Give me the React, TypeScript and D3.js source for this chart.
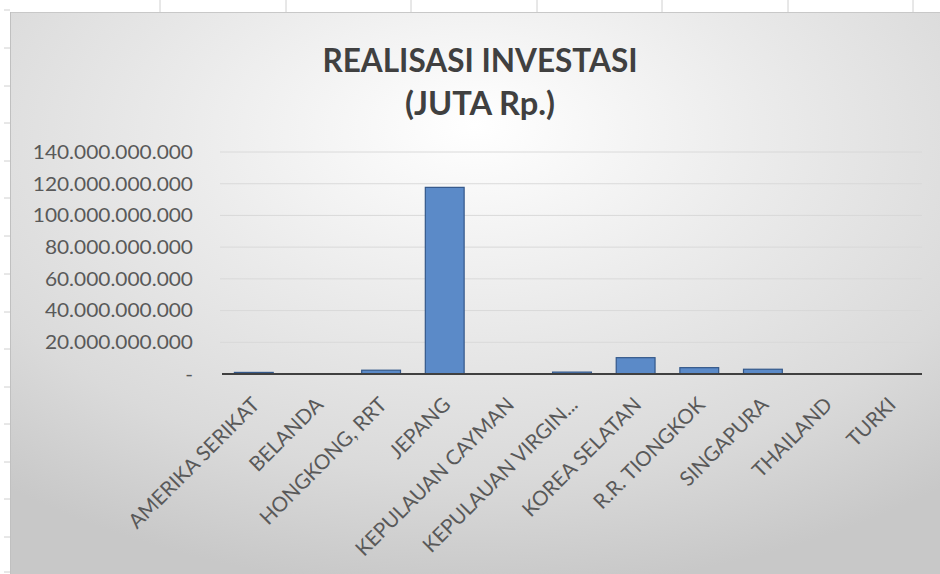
import React from "react";
import * as d3 from "d3";

const categories = [
  "AMERIKA SERIKAT",
  "BELANDA",
  "HONGKONG, RRT",
  "JEPANG",
  "KEPULAUAN CAYMAN",
  "KEPULAUAN VIRGIN...",
  "KOREA SELATAN",
  "R.R. TIONGKOK",
  "SINGAPURA",
  "THAILAND",
  "TURKI",
];
const values = [1.0e9, 0, 2.4e9, 117.7e9, 0, 1.2e9, 10.3e9, 4.0e9, 3.0e9, 0, 0];
const yTicks = [0, 20e9, 40e9, 60e9, 80e9, 100e9, 120e9, 140e9];
const titleLines = ["REALISASI INVESTASI", "(JUTA Rp.)"];

const W = 940;
const H = 574;
const colLines = [160, 286, 411, 537, 662, 788, 913];
const rowLines = [10, 48, 86, 123, 161, 198, 236, 274, 312, 349, 387, 424, 462, 499, 537, 572];

const locale = d3.formatLocale({ decimal: ",", thousands: ".", grouping: [3], currency: ["", ""] });
const fmt = locale.format(",");

export default function App() {
  const x = d3.scaleBand<string>().domain(categories).range([222, 922]).paddingInner(0.39).paddingOuter(0.195);
  const y = d3.scaleLinear().domain([0, 140e9]).range([374, 152]);
  const font = "Lato, 'Open Sans', sans-serif";
  return (
    <svg width={W} height={H} style={{ position: "absolute", left: 0, top: 0 }} fontFamily={font}>
      <defs>
        <radialGradient id="bg" cx="50%" cy="25%" r="78%" fx="50%" fy="20%">
          <stop offset="0%" stopColor="#ffffff" />
          <stop offset="40%" stopColor="#ebebeb" />
          <stop offset="75%" stopColor="#dadada" />
          <stop offset="100%" stopColor="#c8c8c8" />
        </radialGradient>
      </defs>
      <rect x={0} y={0} width={W} height={H} fill="#ffffff" />
      {colLines.map((cx) => (
        <line key={"c" + cx} x1={cx} x2={cx} y1={0} y2={12} stroke="#d0d0d0" strokeWidth={1} />
      ))}
      {rowLines.map((ry) => (
        <line key={"r" + ry} x1={4} x2={10} y1={ry} y2={ry} stroke="#d0d0d0" strokeWidth={1} />
      ))}
      <rect x={10} y={12} width={W - 10} height={H - 12} fill="url(#bg)" />
      <line x1={10} x2={W} y1={12.5} y2={12.5} stroke="#c8c8c8" strokeWidth={1} />
      <line x1={10.5} x2={10.5} y1={12} y2={H} stroke="#c0c0c0" strokeWidth={1} />

      {titleLines.map((t, i) => (
        <text
          key={t}
          x={480}
          y={72 + i * 43}
          textAnchor="middle"
          fontSize={33}
          fontWeight={700}
          fill="#404040"
          textLength={i === 0 ? 315 : 150}
          lengthAdjust="spacingAndGlyphs"
        >
          {t}
        </text>
      ))}

      {yTicks.map((t) => (
        <g key={t}>
          {t > 0 && (
            <line x1={220} x2={922} y1={y(t)} y2={y(t)} stroke="#d8d8d8" strokeWidth={1} opacity={0.9} />
          )}
          <g transform="translate(193,0) scale(1.1,1) translate(-193,0)">
            <text x={193} y={y(t)} dy="0.36em" textAnchor="end" fontSize={19} fill="#595959">
              {t === 0 ? "-" : fmt(t)}
            </text>
          </g>
        </g>
      ))}

      {categories.map((c, i) => {
        const v = values[i];
        if (v <= 0) return null;
        return (
          <rect
            key={c}
            x={x(c)}
            y={y(v)}
            width={x.bandwidth()}
            height={y(0) - y(v)}
            fill="#5b8ac8"
            stroke="#34588a"
            strokeWidth={1.2}
          />
        );
      })}
      <line x1={222} x2={922} y1={y(0)} y2={y(0)} stroke="#404040" strokeWidth={2} />

      {categories.map((c) => {
        const cx = (x(c) as number) + x.bandwidth() / 2;
        return (
          <text
            key={"l" + c}
            transform={`translate(${cx + 7},${406}) rotate(-45)`}
            textAnchor="end"
            fontSize={20.5}
            fill="#595959"
          >
            {c}
          </text>
        );
      })}
    </svg>
  );
}
